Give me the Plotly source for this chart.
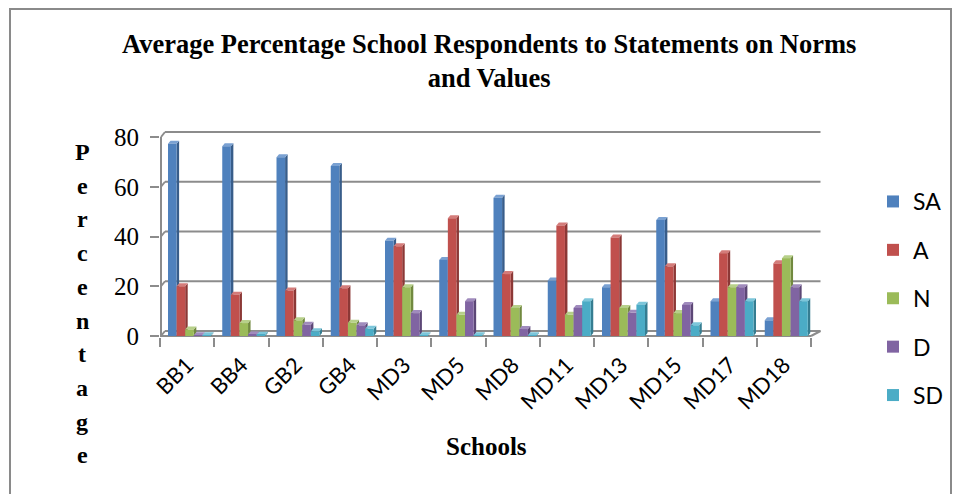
import plotly.graph_objects as go

# ---- data -------------------------------------------------------------
schools = ["BB1", "BB4", "GB2", "GB4", "MD3", "MD5", "MD8",
           "MD11", "MD13", "MD15", "MD17", "MD18"]
series_names = ["SA", "A", "N", "D", "SD"]
sa = [77.3, 76.3, 71.9, 68.3, 38.3, 30.6, 55.6, 22.3, 19.6, 46.6, 14.0, 6.3]
a = [20.0, 16.6, 18.3, 19.2, 36.1, 47.3, 24.9, 44.4, 39.6, 28.0, 33.3, 29.2]
n = [2.6, 5.2, 6.3, 5.3, 19.6, 8.5, 11.3, 8.5, 11.3, 9.2, 19.6, 31.3]
d = [0.3, 0.6, 4.5, 4.3, 9.2, 14.0, 2.8, 11.3, 9.3, 12.5, 19.6, 19.6]
sd = [0.3, 0.5, 1.9, 2.9, 0.3, 0.3, 0.3, 14.0, 12.6, 4.3, 14.0, 14.0]
y_ticks = [0, 20, 40, 60, 80]

series_values = [sa, a, n, d, sd]
front_colors = ["#4F81BD", "#C0504D", "#9BBB59", "#8064A2", "#4BACC6"]
side_colors = ["#385D8A", "#8C3836", "#71893F", "#5C4776", "#357D91"]
top_colors = ["#7AA1D2", "#D47C7A", "#B7D08A", "#A08BBD", "#7CC6DA"]

# ---- geometry (pixels) ------------------------------------------------
W, H = 954, 494
L, R, T, B = 160, 822, 127, 337        # plot area
PX_X = 54.25                             # pixels per category
PX_Y = 2.4875                            # pixels per percentage point
Y0 = 336                                 # pixel row of value 0
GRID = "#8C8C8C"

x_min = -0.5
x_max = x_min + (R - L) / PX_X
y_min = -(B - Y0) / PX_Y
y_max = (Y0 - T) / PX_Y

bar_w = 8.6 / PX_X
bar_start = -0.5 + 8.0 / PX_X
bar_dx, bar_dy = 2.5 / PX_X, 3.0 / PX_Y      # bar depth
wall_dx, wall_dy = 5.0 / PX_X, 5.0 / PX_Y    # back-wall depth (left)
right_dx = 9.5 / PX_X                        # back-wall depth (right)


def paper_x(px):
    return (px - L) / (R - L)


def paper_y(py):
    return (B - py) / (B - T)


fig = go.Figure()

shapes = []
# back-wall gridlines with the short diagonals on the side wall
for v in y_ticks:
    shapes.append(dict(type="line", xref="x", yref="y", layer="below",
                       x0=x_min + wall_dx, x1=11.5 + right_dx,
                       y0=v + wall_dy, y1=v + wall_dy,
                       line=dict(color=GRID, width=2)))
    shapes.append(dict(type="line", xref="x", yref="y", layer="below",
                       x0=x_min + 1 / PX_X, x1=x_min + wall_dx,
                       y0=v, y1=v + wall_dy,
                       line=dict(color=GRID, width=2)))
# floor: front edge and right diagonal
shapes.append(dict(type="line", xref="x", yref="y", layer="below",
                   x0=x_min, x1=11.5, y0=0, y1=0,
                   line=dict(color=GRID, width=2)))
shapes.append(dict(type="line", xref="x", yref="y", layer="below",
                   x0=11.5, x1=11.5 + right_dx, y0=0, y1=wall_dy,
                   line=dict(color=GRID, width=2)))
# front value axis
shapes.append(dict(type="line", xref="x", yref="y", layer="below",
                   x0=x_min + 1 / PX_X, x1=x_min + 1 / PX_X,
                   y0=0, y1=y_ticks[-1],
                   line=dict(color=GRID, width=2)))

# 3D side and top faces of every bar, computed from the data
for i, vals in enumerate(series_values):
    off = bar_start + i * bar_w
    for c, v in enumerate(vals):
        xl = c + off
        xr = xl + bar_w
        shapes.append(dict(
            type="path", xref="x", yref="y", layer="below",
            path=(f"M {xr},{0} L {xr},{v} L {xr + bar_dx},{v + bar_dy} "
                  f"L {xr + bar_dx},{bar_dy} Z"),
            fillcolor=side_colors[i], line=dict(width=0)))
        shapes.append(dict(
            type="path", xref="x", yref="y", layer="below",
            path=(f"M {xl},{v} L {xr},{v} L {xr + bar_dx},{v + bar_dy} "
                  f"L {xl + bar_dx},{v + bar_dy} Z"),
            fillcolor=top_colors[i], line=dict(width=0)))

# chart frame
shapes.append(dict(type="rect", xref="paper", yref="paper",
                   x0=paper_x(10), x1=paper_x(951),
                   y0=paper_y(510), y1=paper_y(9),
                   line=dict(color="#8A8A8A", width=2)))

for i, (name, vals) in enumerate(zip(series_names, series_values)):
    fig.add_trace(go.Bar(
        x=list(range(len(schools))), y=vals, name=name,
        offset=bar_start + i * bar_w, width=bar_w,
        marker=dict(color=front_colors[i], line=dict(width=0)),
        legendgroup=name,
    ))

annotations = []
# title
annotations.append(dict(
    text="<b>Average Percentage School Respondents to Statements on Norms"
         "<br>and Values</b>",
    xref="paper", yref="paper", x=paper_x(489), y=paper_y(61),
    xanchor="center", yanchor="middle", showarrow=False, align="center",
    font=dict(family="Liberation Serif", size=26.5, color="#000000")))
# x-axis title
annotations.append(dict(
    text="<b>Schools</b>", xref="paper", yref="paper",
    x=paper_x(486), y=paper_y(446), xanchor="center", yanchor="middle",
    showarrow=False,
    font=dict(family="Liberation Serif", size=25, color="#000000")))
# y-axis title, one letter per line
for k, ch in enumerate("Percentage"):
    base = 160 + 33.7 * k
    annotations.append(dict(
        text=f"<b>{ch}</b>", xref="paper", yref="paper",
        x=paper_x(82), y=paper_y(base - 8), xanchor="center",
        yanchor="middle", showarrow=False,
        font=dict(family="Liberation Serif", size=24, color="#000000")))

fig.update_layout(
    width=W, height=H,
    margin=dict(l=L, r=W - R, t=T, b=H - B, pad=0),
    paper_bgcolor="white", plot_bgcolor="rgba(0,0,0,0)",
    barmode="overlay",
    shapes=shapes, annotations=annotations,
    showlegend=True,
    legend=dict(xref="container", yref="container",
                x=873 / W, y=1 - 180 / H, xanchor="left", yanchor="top",
                font=dict(family="Lato", size=23, color="#000000"),
                tracegroupgap=15.5, bgcolor="rgba(0,0,0,0)"),
    xaxis=dict(range=[x_min, x_max], showgrid=False, zeroline=False,
               showline=False, tickmode="array",
               tickvals=list(range(len(schools))), ticktext=schools,
               ticks="", tickangle=-45, ticklabelstandoff=10,
               tickfont=dict(family="Lato", size=22, color="#000000"),
               minor=dict(tickmode="array",
                          tickvals=[c - 0.5 for c in range(len(schools) + 1)],
                          ticks="outside", ticklen=9, tickwidth=2,
                          tickcolor=GRID, showgrid=False)),
    yaxis=dict(range=[y_min, y_max], showgrid=False, zeroline=False,
               showline=False, tickmode="array", tickvals=y_ticks,
               ticks="outside", ticklen=9, tickwidth=2, tickcolor=GRID,
               ticklabelstandoff=6,
               tickfont=dict(family="Liberation Serif", size=25,
                             color="#000000")),
)

fig.write_html("out.html")
